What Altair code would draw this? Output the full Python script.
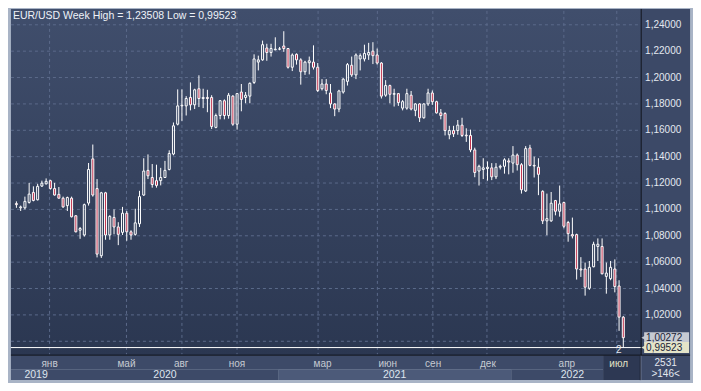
import altair as alt
import pandas as pd

# ---------------- data (weekly EUR/USD candles) ----------------
opens = [1.1044, 1.1012, 1.1012, 1.1053, 1.1129, 1.1073, 1.1177, 1.1194, 1.1218, 1.1158,
         1.1114, 1.1085, 1.1029, 1.1085, 1.0952, 1.0842, 1.0806, 1.1048, 1.1383, 1.1158,
         1.0649, 1.1126, 1.0806, 1.0939, 1.0867, 1.0826, 1.0971, 1.0830, 1.0811, 1.0891,
         1.1109, 1.1296, 1.1242, 1.1218, 1.1218, 1.1242, 1.1303, 1.1420, 1.1646, 1.1785,
         1.1785, 1.1849, 1.1793, 1.1915, 1.1841, 1.1849, 1.1849, 1.1622, 1.1712, 1.1824,
         1.1712, 1.1859, 1.1646, 1.1890, 1.1849, 1.1859, 1.1963, 1.2117, 1.2134, 1.2224,
         1.2190, 1.2210, 1.2215, 1.2239, 1.2220, 1.2078, 1.2176, 1.2134, 1.2044, 1.2112,
         1.2117, 1.2078, 1.1915, 1.1951, 1.1883, 1.1800, 1.1761, 1.1890, 1.1971, 1.2093,
         1.2020, 1.2141, 1.2141, 1.2171, 1.2200, 1.2171, 1.2110, 1.1866, 1.1939, 1.1873,
         1.1878, 1.1768, 1.1768, 1.1866, 1.1751, 1.1800, 1.1695, 1.1800, 1.1883, 1.1817,
         1.1732, 1.1727, 1.1566, 1.1598, 1.1598, 1.1639, 1.1563, 1.1561, 1.1451, 1.1291,
         1.1303, 1.1310, 1.1315, 1.1247, 1.1320, 1.1327, 1.1368, 1.1351, 1.1412, 1.1339,
         1.1140, 1.1466, 1.1334, 1.1320, 1.1137, 1.0913, 1.0913, 1.1067, 1.0986, 1.1052,
         1.0901, 1.0809, 1.0809, 1.0548, 1.0548, 1.0402, 1.0565, 1.0719, 1.0719, 1.0492,
         1.0475, 1.0548, 1.0419, 1.0183]
highs = [1.1061, 1.1029, 1.1097, 1.1201, 1.1175, 1.1194, 1.1218, 1.1235, 1.1225, 1.1201,
         1.1170, 1.1097, 1.1097, 1.1097, 1.0956, 1.0867, 1.1044, 1.1352, 1.1492, 1.1230,
         1.1133, 1.1133, 1.0956, 1.1000, 1.0903, 1.1019, 1.0988, 1.0842, 1.1005, 1.1141,
         1.1388, 1.1417, 1.1344, 1.1339, 1.1315, 1.1368, 1.1448, 1.1659, 1.1910, 1.1910,
         1.1859, 1.1963, 1.1915, 1.2017, 1.1915, 1.1907, 1.1866, 1.1727, 1.1829, 1.1834,
         1.1883, 1.1866, 1.1883, 1.1951, 1.1890, 1.1963, 1.2176, 1.2166, 1.2280, 1.2256,
         1.2256, 1.2305, 1.2232, 1.2351, 1.2224, 1.2183, 1.2183, 1.2146, 1.2127, 1.2159,
         1.2244, 1.2110, 1.1988, 1.1988, 1.1951, 1.1805, 1.1907, 1.1995, 1.2110, 1.2159,
         1.2183, 1.2183, 1.2249, 1.2263, 1.2268, 1.2220, 1.2117, 1.1980, 1.1946, 1.1915,
         1.1883, 1.1829, 1.1915, 1.1898, 1.1805, 1.1805, 1.1805, 1.1915, 1.1902, 1.1824,
         1.1761, 1.1737, 1.1634, 1.1634, 1.1678, 1.1695, 1.1615, 1.1605, 1.1468, 1.1339,
         1.1388, 1.1364, 1.1351, 1.1351, 1.1339, 1.1388, 1.1388, 1.1480, 1.1424, 1.1351,
         1.1480, 1.1490, 1.1400, 1.1388, 1.1145, 1.1120, 1.1132, 1.1072, 1.1181, 1.1059,
         1.0913, 1.0938, 1.0816, 1.0638, 1.0597, 1.0609, 1.0755, 1.0780, 1.0780, 1.0597,
         1.0609, 1.0621, 1.0463, 1.0191]
lows = [1.1012, 1.0988, 1.1000, 1.1044, 1.1061, 1.1068, 1.1170, 1.1189, 1.1150, 1.1105,
        1.1082, 1.1012, 1.0988, 1.0939, 1.0826, 1.0777, 1.0794, 1.1029, 1.1097, 1.0636,
        1.0632, 1.0770, 1.0770, 1.0811, 1.0729, 1.0806, 1.0762, 1.0770, 1.0801, 1.0867,
        1.1102, 1.1230, 1.1165, 1.1165, 1.1182, 1.1238, 1.1296, 1.1410, 1.1637, 1.1671,
        1.1712, 1.1751, 1.1761, 1.1776, 1.1768, 1.1737, 1.1610, 1.1615, 1.1683, 1.1683,
        1.1688, 1.1634, 1.1605, 1.1744, 1.1805, 1.1805, 1.1951, 1.2054, 1.2127, 1.2127,
        1.2159, 1.2207, 1.2207, 1.2195, 1.2068, 1.2049, 1.2098, 1.1946, 1.2020, 1.2024,
        1.2061, 1.1890, 1.1902, 1.1873, 1.1768, 1.1707, 1.1737, 1.1878, 1.1939, 1.2005,
        1.1988, 1.2054, 1.2122, 1.2134, 1.2102, 1.2098, 1.1841, 1.1854, 1.1805, 1.1780,
        1.1785, 1.1751, 1.1756, 1.1751, 1.1707, 1.1663, 1.1688, 1.1785, 1.1793, 1.1727,
        1.1683, 1.1561, 1.1532, 1.1549, 1.1566, 1.1549, 1.1512, 1.1434, 1.1244, 1.1181,
        1.1230, 1.1218, 1.1222, 1.1230, 1.1303, 1.1271, 1.1266, 1.1278, 1.1295, 1.1120,
        1.1132, 1.1327, 1.1242, 1.1108, 1.0889, 1.0804, 1.0906, 1.0955, 1.0945, 1.0857,
        1.0755, 1.0780, 1.0468, 1.0488, 1.0346, 1.0390, 1.0561, 1.0609, 1.0507, 1.0361,
        1.0463, 1.0371, 1.0079, 0.99523]
closes = [1.1036, 1.1019, 1.1061, 1.1116, 1.1068, 1.1175, 1.1199, 1.1213, 1.1158, 1.1109,
          1.1085, 1.1019, 1.1090, 1.0944, 1.0830, 1.0855, 1.1036, 1.1303, 1.1109, 1.0661,
          1.1126, 1.0806, 1.0947, 1.0867, 1.0811, 1.0971, 1.0830, 1.0806, 1.0898, 1.1097,
          1.1291, 1.1255, 1.1189, 1.1182, 1.1242, 1.1296, 1.1424, 1.1634, 1.1785, 1.1790,
          1.1841, 1.1793, 1.1907, 1.1841, 1.1849, 1.1841, 1.1629, 1.1712, 1.1824, 1.1712,
          1.1866, 1.1646, 1.1878, 1.1834, 1.1866, 1.1956, 1.2141, 1.2134, 1.2249, 1.2190,
          1.2220, 1.2215, 1.2217, 1.2220, 1.2078, 1.2171, 1.2134, 1.2044, 1.2117, 1.2127,
          1.2078, 1.1902, 1.1951, 1.1902, 1.1800, 1.1761, 1.1898, 1.1988, 1.2098, 1.2020,
          1.2171, 1.2166, 1.2183, 1.2190, 1.2166, 1.2110, 1.1859, 1.1939, 1.1873, 1.1878,
          1.1810, 1.1817, 1.1878, 1.1761, 1.1800, 1.1695, 1.1800, 1.1883, 1.1817, 1.1732,
          1.1712, 1.1598, 1.1598, 1.1573, 1.1639, 1.1561, 1.1558, 1.1451, 1.1280, 1.1327,
          1.1315, 1.1320, 1.1247, 1.1320, 1.1327, 1.1376, 1.1359, 1.1412, 1.1339, 1.1149,
          1.1461, 1.1334, 1.1329, 1.1266, 1.0913, 1.0930, 1.1047, 1.0986, 1.1042, 1.0872,
          1.0816, 1.0799, 1.0548, 1.0541, 1.0410, 1.0561, 1.0736, 1.0736, 1.0512, 1.0517,
          1.0561, 1.0415, 1.0183, 1.00272]

grid_prices = [1.00, 1.02, 1.04, 1.06, 1.08, 1.10, 1.12, 1.14, 1.16, 1.18, 1.20, 1.22, 1.24]
label_prices = [1.02, 1.04, 1.06, 1.08, 1.10, 1.12, 1.14, 1.16, 1.18, 1.20, 1.22, 1.24]
grid_idx = [8.81, 26.93, 40.0, 52.98, 72.08, 86.05, 99.12, 111.87, 129.99, 142.46]
month_names = ["янв", "май", "авг", "ноя", "мар", "июн", "сен", "дек", "апр", "июл"]
month_idx = [8.81, 26.93, 39.84, 52.98, 73.13, 88.5, 99.19, 112.1, 130.7, 142.9]
year_names = ["2019", "2020", "2021", "2022"]
year_idx = [5.64, 36.0, 90.1, 132.0]
period_high = 1.23508
period_low = 0.99523
last_close = 1.00272

# ---------------- geometry helpers ----------------
W, H = 685, 375
SX, SY = W / 701, H / 391


def X(v):
    return v * SX


def Y(v):
    return v * SY


FONT = "Liberation Sans"
BORDER = "#a9b4c6"
RED = "#c0304c"
GRID = "#5b6a8a"

n = len(opens)
df = pd.DataFrame({"idx": list(range(1, n + 1)), "o": opens, "h": highs, "l": lows, "c": closes})

xs = alt.Scale(domain=[1, n], range=[X(3.5), X(634.8)], nice=False, zero=False)
ys = alt.Scale(domain=[0.99, 1.25], range=[Y(361.25), Y(3.75)], nice=False, zero=False)

one = alt.Data(values=[{"k": 0}])


def box(x1, y1, x2, y2, fill):
    return alt.Chart(one).mark_rect(fill=fill, strokeWidth=0).encode(
        x=alt.value(X(x1)), x2=alt.value(X(x2)), y=alt.value(Y(y1)), y2=alt.value(Y(y2)))


def line(x1, y1, x2, y2, color, w=1):
    return alt.Chart(one).mark_rule(color=color, strokeWidth=w).encode(
        x=alt.value(X(x1)), x2=alt.value(X(x2)), y=alt.value(Y(y1)), y2=alt.value(Y(y2)))


def txt(s, x, y, color, size, align="left"):
    return alt.Chart(one).mark_text(text=s, align=align, baseline="middle", color=color,
                                    fontSize=size, font=FONT).encode(
        x=alt.value(X(x)), y=alt.value(Y(y)))


plot_grad = alt.Gradient(gradient="linear",
                         stops=[alt.GradientStop(color="#404e6c", offset=0),
                                alt.GradientStop(color="#2b3751", offset=1)],
                         x1=0, x2=0, y1=0, y2=1)

layers = []
# frames / backgrounds
layers.append(box(3, 1, 648, 362, plot_grad))
layers.append(box(648, 1, 698, 362, "#3c4967"))
layers.append(box(3, 362, 609, 377, "#3d4a68"))
layers.append(box(3, 377, 37, 388, "#4c5a79"))
layers.append(box(37, 377, 277, 388, "#3d4a68"))
layers.append(box(277, 377, 515, 388, "#4c5a79"))
layers.append(box(515, 377, 609, 388, "#3d4a68"))
layers.append(box(609, 362, 647, 388, "#2d3853"))
layers.append(box(648, 362, 698, 388, "#3d4a68"))

# grid
gdf = pd.DataFrame({"p": grid_prices})
layers.append(alt.Chart(gdf).mark_rule(color=GRID, strokeWidth=1, strokeDash=[3, 3]).encode(
    y=alt.Y("p:Q", scale=ys, axis=None), x=alt.value(X(3)), x2=alt.value(X(648))))
vdf = pd.DataFrame({"i": grid_idx})
layers.append(alt.Chart(vdf).mark_rule(color=GRID, strokeWidth=1, strokeDash=[3, 3]).encode(
    x=alt.X("i:Q", scale=xs, axis=None), y=alt.value(Y(3)), y2=alt.value(Y(361))))

# low line
layers.append(alt.Chart(pd.DataFrame({"p": [period_low]})).mark_rule(color="white", strokeWidth=1).encode(
    y=alt.Y("p:Q", scale=ys, axis=None), x=alt.value(X(3)), x2=alt.value(X(648))))

# candles
base = alt.Chart(df).transform_calculate(top="max(datum.o, datum.c)", bot="min(datum.o, datum.c)")
xenc = alt.X("idx:Q", scale=xs, axis=None)
layers.append(base.mark_rule(color="white", strokeWidth=1).encode(
    x=xenc, y=alt.Y("h:Q", scale=ys, axis=None), y2="top:Q"))
layers.append(base.mark_rule(color="white", strokeWidth=1).encode(
    x=xenc, y=alt.Y("bot:Q", scale=ys, axis=None), y2="l:Q"))
layers.append(base.mark_bar(orient="vertical", width=2, stroke="white", strokeWidth=1).encode(
    x=xenc, y=alt.Y("o:Q", scale=ys, axis=None), y2="c:Q",
    fill=alt.condition("datum.c < datum.o", alt.value(RED), alt.value("transparent"))))

# separators
layers.append(line(648, 1, 648, 362, "#0c0f18"))
layers.append(line(3, 362, 698, 362, "#0c0f18"))
layers.append(line(647, 362, 647, 388, "#1c2234"))

# price labels
ldf = pd.DataFrame({"p": label_prices, "t": [f"{p:.5f}".replace(".", ",") for p in label_prices]})
layers.append(alt.Chart(ldf).mark_text(align="left", baseline="middle", color="#e3e8f0",
                                      fontSize=10, font=FONT).encode(
    y=alt.Y("p:Q", scale=ys, axis=None), x=alt.value(X(652)), text="t:N"))

# last price / low boxes
mk = pd.DataFrame({"p": [last_close, period_low],
                   "t": [f"{last_close:.5f}".replace(".", ","), f"{period_low:.5f}".replace(".", ",")],
                   "k": ["close", "low"]})
col = alt.Color("k:N", scale=alt.Scale(domain=["close", "low"], range=["#c6cad2", "#e4e4c8"]), legend=None)
layers.append(alt.Chart(mk).mark_tick(orient="horizontal", size=X(46), thickness=Y(11.5), opacity=1).encode(
    y=alt.Y("p:Q", scale=ys, axis=None), x=alt.value(X(674)), color=col))
layers.append(alt.Chart(mk).mark_point(shape="triangle-left", filled=True, size=40, opacity=1).encode(
    y=alt.Y("p:Q", scale=ys, axis=None), x=alt.value(X(651)), color=col))
layers.append(alt.Chart(mk).mark_text(align="left", baseline="middle", color="#1a2236",
                                     fontSize=10, font=FONT).encode(
    y=alt.Y("p:Q", scale=ys, axis=None), x=alt.value(X(653)), text="t:N"))

# time axis labels
mdf = pd.DataFrame({"i": month_idx, "t": month_names,
                    "g": ["n"] * (len(month_names) - 1) + ["dim"]})
layers.append(alt.Chart(mdf).mark_text(align="center", baseline="middle", fontSize=10, font=FONT).encode(
    x=alt.X("i:Q", scale=xs, axis=None), y=alt.value(Y(371.5)), text="t:N",
    color=alt.Color("g:N", scale=alt.Scale(domain=["n", "dim"], range=["#c9d1de", "#7d889d"]), legend=None)))
ydf = pd.DataFrame({"i": year_idx, "t": year_names})
layers.append(alt.Chart(ydf).mark_text(align="center", baseline="middle", fontSize=10.5, font=FONT,
                                      color="#dfe5ee").encode(
    x=alt.X("i:Q", scale=xs, axis=None), y=alt.value(Y(382.5)), text="t:N"))

# misc texts
title = f"EUR/USD Week High = {period_high:.5f} Low = {period_low:.5f}".replace(".", ",")
layers.append(txt(title, 5, 8.5, "#eef2f8", 10.5))
layers.append(txt("2", 625, 357, "#e3e8f0", 10, "center"))
layers.append(txt("2531", 673, 370, "#e3e8f0", 10, "center"))
layers.append(txt(">146<", 673, 382, "#e3e8f0", 10, "center"))

chart = alt.layer(*layers).properties(
    width=W, height=H, padding=0, autosize=alt.AutoSizeParams(type="none"), background=BORDER
).configure_view(stroke=None)

chart.save("out.html", embed_options={"renderer": "svg", "actions": False})
